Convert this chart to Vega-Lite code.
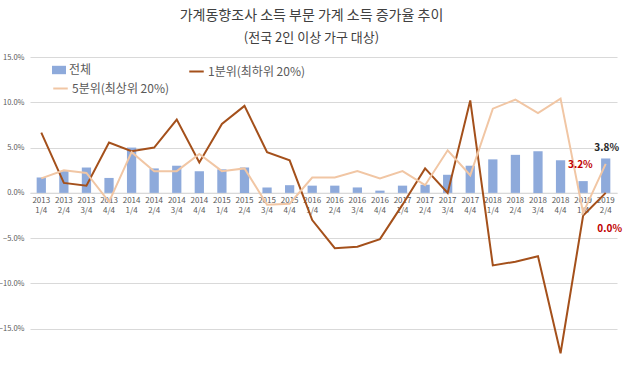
{
  "$schema": "https://vega.github.io/schema/vega-lite/v6.json",
  "width": 587,
  "height": 313,
  "autosize": {"type": "none"},
  "padding": {"left": 30, "top": 57, "right": 6, "bottom": 0},
  "background": "white",
  "config": {"view": {"stroke": null}, "font": "Noto Sans CJK KR"},
  "title": {
    "text": "가계동향조사 소득 부문 가계 소득 증가율 추이",
    "subtitle": "(전국 2인 이상 가구 대상)",
    "fontSize": 14,
    "fontWeight": "normal",
    "color": "#404040",
    "subtitleFontSize": 13,
    "subtitleColor": "#404040",
    "subtitlePadding": 9,
    "offset": 8,
    "anchor": "middle",
    "frame": "group",
    "dx": -12
  },
  "data": {
    "values": [
      {"q": "2013 1/4", "total": 1.7, "q1": 6.65, "q5": 1.6},
      {"q": "2013 2/4", "total": 2.4, "q1": 1.1, "q5": 2.5},
      {"q": "2013 3/4", "total": 2.8, "q1": 0.8, "q5": 2.2},
      {"q": "2013 4/4", "total": 1.65, "q1": 5.55, "q5": -1.0},
      {"q": "2014 1/4", "total": 5.0, "q1": 4.6, "q5": 4.5},
      {"q": "2014 2/4", "total": 2.7, "q1": 5.0, "q5": 2.4},
      {"q": "2014 3/4", "total": 3.0, "q1": 8.1, "q5": 2.4},
      {"q": "2014 4/4", "total": 2.4, "q1": 3.35, "q5": 4.3},
      {"q": "2015 1/4", "total": 2.6, "q1": 7.6, "q5": 2.4},
      {"q": "2015 2/4", "total": 2.8, "q1": 9.6, "q5": 2.7},
      {"q": "2015 3/4", "total": 0.6, "q1": 4.5, "q5": -1.3},
      {"q": "2015 4/4", "total": 0.85, "q1": 3.6, "q5": -1.2},
      {"q": "2016 1/4", "total": 0.8, "q1": -3.0, "q5": 1.7},
      {"q": "2016 2/4", "total": 0.8, "q1": -6.1, "q5": 1.7},
      {"q": "2016 3/4", "total": 0.6, "q1": -5.95, "q5": 2.4},
      {"q": "2016 4/4", "total": 0.25, "q1": -5.1, "q5": 1.6},
      {"q": "2017 1/4", "total": 0.8, "q1": -1.3, "q5": 2.4},
      {"q": "2017 2/4", "total": 0.9, "q1": 2.7, "q5": 0.85},
      {"q": "2017 3/4", "total": 2.0, "q1": 0.0, "q5": 4.7},
      {"q": "2017 4/4", "total": 3.0, "q1": 10.2, "q5": 1.95},
      {"q": "2018 1/4", "total": 3.7, "q1": -8.0, "q5": 9.3},
      {"q": "2018 2/4", "total": 4.2, "q1": -7.6, "q5": 10.3},
      {"q": "2018 3/4", "total": 4.6, "q1": -7.0, "q5": 8.8},
      {"q": "2018 4/4", "total": 3.6, "q1": -17.7, "q5": 10.4},
      {"q": "2019 1/4", "total": 1.3, "q1": -2.5, "q5": -2.2},
      {"q": "2019 2/4", "total": 3.8, "q1": 0.0, "q5": 3.2}
    ]
  },
  "transform": [{"fold": ["total", "q1", "q5"], "as": ["s", "v"]}],
  "encoding": {
    "x": {
      "field": "q",
      "type": "nominal",
      "sort": null,
      "scale": {"paddingInner": 0.59, "paddingOuter": 0.295},
      "axis": {
        "orient": "bottom",
        "offset": -177.3,
        "title": null,
        "domain": true,
        "domainColor": "#d9d9d9",
        "domainWidth": 1,
        "ticks": false,
        "labelAngle": 0,
        "labelExpr": "split(datum.label, ' ')",
        "labelFontSize": 8,
        "labelLineHeight": 10,
        "labelPadding": 4,
        "labelColor": "#595959"
      }
    },
    "y": {
      "field": "v",
      "type": "quantitative",
      "scale": {"domain": [-19.55, 15], "nice": false, "zero": false},
      "axis": {
        "title": null,
        "values": [-15, -10, -5, 0, 5, 10, 15],
        "labelExpr": "format(datum.value, '.1f') + '%'",
        "grid": true,
        "gridColor": "#d9d9d9",
        "gridWidth": 1,
        "domain": false,
        "ticks": false,
        "labelFontSize": 7.5,
        "labelColor": "#595959",
        "labelPadding": 6
      }
    }
  },
  "layer": [
    {
      "transform": [{"filter": "datum.s === 'total'"}],
      "mark": {"type": "bar"},
      "encoding": {
        "fill": {
          "datum": "전체",
          "scale": {"range": ["#8eaadb"]},
          "legend": {
            "orient": "none",
            "legendX": 22,
            "legendY": 6,
            "title": null,
            "padding": 0,
            "symbolType": "M-1,-0.6H1V0.6H-1Z",
            "symbolSize": 196,
            "symbolStrokeWidth": 0,
            "labelFontSize": 12,
            "labelColor": "#595959",
            "labelOffset": 3
          }
        }
      }
    },
    {
      "transform": [{"filter": "datum.s === 'q1'"}],
      "mark": {"type": "line", "strokeWidth": 2},
      "encoding": {
        "stroke": {
          "datum": "1분위(최하위 20%)",
          "scale": {"range": ["#a4501b"]},
          "legend": {
            "orient": "none",
            "legendX": 158,
            "legendY": 6,
            "title": null,
            "padding": 0,
            "symbolType": "stroke",
            "symbolSize": 210,
            "symbolStrokeWidth": 2,
            "labelFontSize": 12,
            "labelColor": "#595959",
            "labelOffset": 3
          }
        }
      }
    },
    {
      "transform": [{"filter": "datum.s === 'q5'"}],
      "mark": {"type": "line", "strokeWidth": 2},
      "encoding": {
        "stroke": {
          "datum": "5분위(최상위 20%)",
          "scale": {"range": ["#f1c6a4"]},
          "legend": {
            "orient": "none",
            "legendX": 22,
            "legendY": 23,
            "title": null,
            "padding": 0,
            "symbolType": "stroke",
            "symbolSize": 210,
            "symbolStrokeWidth": 2,
            "labelFontSize": 12,
            "labelColor": "#595959",
            "labelOffset": 3
          }
        }
      }
    },
    {
      "transform": [
        {"filter": "datum.q === '2019 2/4' && datum.s === 'total'"},
        {"calculate": "format(datum.v, '.1f') + '%'", "as": "lab"}
      ],
      "mark": {"type": "text", "dy": -10, "dx": 1, "fontSize": 10, "fontWeight": "bold", "color": "#262626"},
      "encoding": {"text": {"field": "lab"}}
    },
    {
      "transform": [
        {"filter": "datum.q === '2019 2/4' && datum.s === 'q5'"},
        {"calculate": "format(datum.v, '.1f') + '%'", "as": "lab"}
      ],
      "mark": {"type": "text", "align": "right", "dx": -13, "dy": 1, "fontSize": 10, "fontWeight": "bold", "color": "#c00000"},
      "encoding": {"text": {"field": "lab"}}
    },
    {
      "transform": [
        {"filter": "datum.q === '2019 2/4' && datum.s === 'q1'"},
        {"calculate": "format(datum.v, '.1f') + '%'", "as": "lab"}
      ],
      "mark": {"type": "text", "dy": 36, "dx": 4, "fontSize": 10, "fontWeight": "bold", "color": "#c00000"},
      "encoding": {"text": {"field": "lab"}}
    }
  ],
  "resolve": {"scale": {"stroke": "independent"}, "legend": {"stroke": "independent"}}
}
